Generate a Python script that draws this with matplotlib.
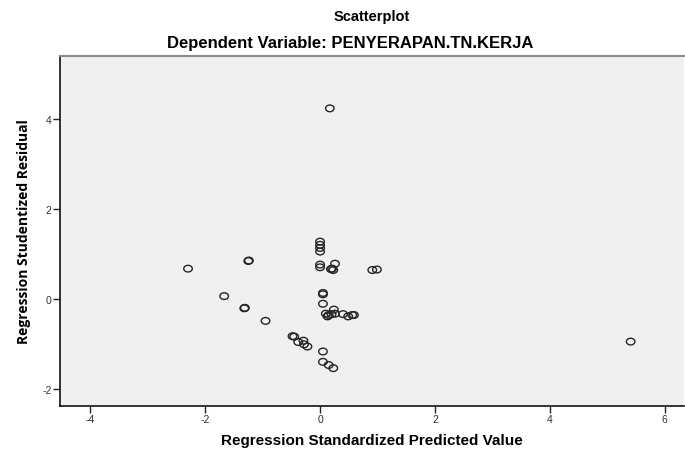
import matplotlib
matplotlib.use("Agg")
import matplotlib.pyplot as plt
from matplotlib.path import Path
from matplotlib.transforms import Affine2D

# values
predicted = [
    0.17, -2.30, -1.67, -1.24, -1.25, -1.32, -1.31, -0.95,
    0.00, 0.00, 0.00, 0.00, 0.00, 0.00, 0.26, 0.21, 0.23, 0.19, 0.91, 0.99,
    0.05, 0.05, 0.05, 0.24, 0.10, 0.15, 0.20, 0.13, 0.26, 0.40, 0.49, 0.56, 0.59,
    -0.45, -0.48, -0.38, -0.29, -0.28, -0.22,
    0.05, 0.05, 0.15, 0.23, 5.41,
]
residual = [
    4.23, 0.67, 0.06, 0.85, 0.84, -0.21, -0.20, -0.49,
    1.27, 1.20, 1.13, 1.05, 0.76, 0.70, 0.78, 0.67, 0.64, 0.66, 0.64, 0.65,
    0.13, 0.10, -0.11, -0.24, -0.33, -0.36, -0.34, -0.39, -0.33, -0.34, -0.39, -0.36, -0.36,
    -0.84, -0.83, -0.96, -0.93, -1.01, -1.06,
    -1.17, -1.40, -1.47, -1.54, -0.95,
]

title = "Scatterplot"
subtitle = "Dependent Variable: PENYERAPAN.TN.KERJA"
x_label = "Regression Standardized Predicted Value"
y_label = "Regression Studentized Residual"
x_ticks = [-4, -2, 0, 2, 4, 6]
y_ticks = [-2, 0, 2, 4]

plt.rcParams["font.family"] = ["Liberation Sans", "DejaVu Sans"]
plt.rcParams["axes.unicode_minus"] = False

# slightly flattened circle, like the SPSS markers
ellipse = Affine2D().scale(1.0, 0.78).transform_path(Path.unit_circle())

fig = plt.figure(figsize=(6.85, 4.52), dpi=100)
ax = fig.add_axes([0.0876, 0.0996, 0.911, 0.775])
ax.set_facecolor("#f0f0f0")

ax.scatter(predicted, residual, s=38, marker=ellipse, facecolors="none",
           edgecolors="#252525", linewidths=1.0)

ax.set_xlim(-4.53, 6.34)
ax.set_ylim(-2.38, 5.4)
ax.set_xticks(x_ticks)
ax.set_yticks(y_ticks)
ax.tick_params(direction="out", length=5, width=1, labelsize=7.5,
               labelcolor="#333333", color="#222222", pad=1)

for side in ["left", "bottom"]:
    ax.spines[side].set_color("#111111")
    ax.spines[side].set_linewidth(1.2)
ax.spines["top"].set_color("#8a8a8a")
ax.spines["top"].set_linewidth(1.5)
ax.spines["right"].set_visible(False)

ax.set_xlabel(x_label, fontsize=11, fontweight="bold", labelpad=6)
ax.set_ylabel(y_label, fontsize=10, fontweight="bold", labelpad=8,
              family=["Open Sans", "DejaVu Sans"])

fig.text(0.543, 0.962, title, ha="center", va="center", fontsize=10.5,
         fontweight="bold")
fig.text(0.511, 0.903, subtitle, ha="center", va="center", fontsize=12,
         fontweight="bold")

fig.savefig("out.png", dpi=100)
